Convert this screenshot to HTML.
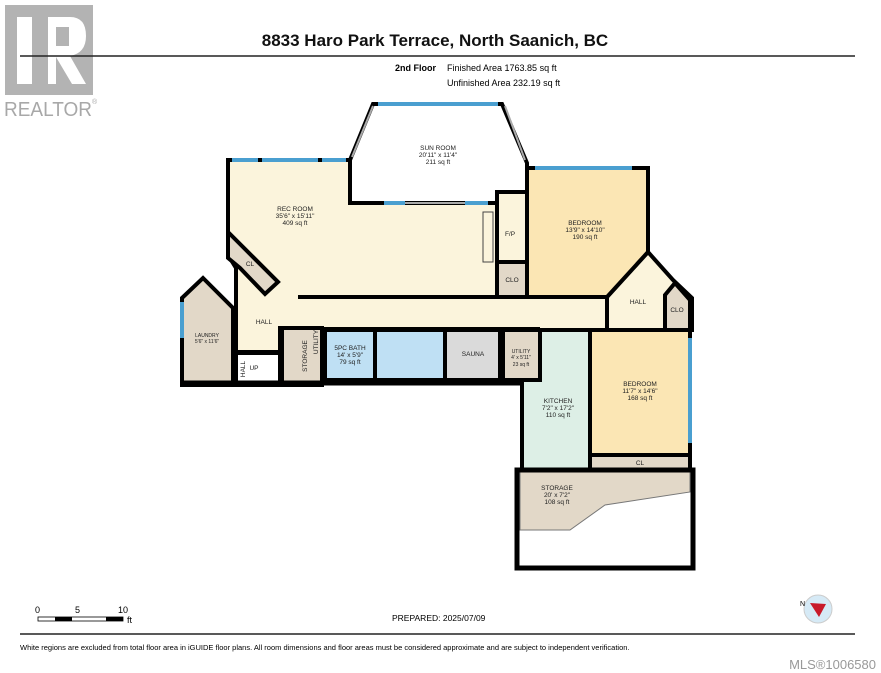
<!DOCTYPE html>
<html><head><meta charset="utf-8"><style>
body{margin:0;background:#fff;}
svg{display:block;font-family:"Liberation Sans",sans-serif;}
</style></head><body>
<svg width="881" height="673" viewBox="0 0 881 673" xmlns="http://www.w3.org/2000/svg">
<!-- logo -->
<rect x="5" y="5" width="88" height="90" fill="#b3b3b3"/>
<rect x="17" y="17" width="15" height="67" fill="#fff"/>
<path d="M48 17 H70 Q86 17 86 36 Q86 53 70 56 L86 84 H72 L56 57 V84 H48 Z" fill="#fff"/>
<rect x="56" y="27" width="13" height="19" fill="#b3b3b3"/>
<text x="4" y="116" font-size="20" fill="#a8a8a8" textLength="88" lengthAdjust="spacingAndGlyphs">REALTOR</text>
<text x="92" y="104" font-size="7" fill="#a8a8a8">®</text>
<line x1="20" y1="56" x2="855" y2="56" stroke="#222" stroke-width="1.5"/>
<text x="435" y="46" font-size="17" font-weight="bold" text-anchor="middle" fill="#111">8833 Haro Park Terrace, North Saanich, BC</text>
<text x="395" y="71" font-size="9" font-weight="bold">2nd Floor</text>
<text x="447" y="71" font-size="9">Finished Area 1763.85 sq ft</text>
<text x="447" y="86" font-size="9">Unfinished Area 232.19 sq ft</text>

<g stroke="#000" stroke-width="4" stroke-linejoin="miter">
<polygon points="373,104 502,104 527,163 527,192 497,192 497,203 350,203 350,160" fill="#fff"/>
<polygon points="228,160 350,160 350,203 497,203 497,297 325,297 325,328 280,328 280,352 236,352 236,268 228,255" fill="#fbf4dc"/>
<polygon points="322,299 660,299 660,328 322,328" fill="#fbf4dc" stroke="none"/>
<polygon points="648,252 673,280 692,298 692,330 607,330 607,297" fill="#fbf4dc"/>
<rect x="497" y="192" width="30" height="70" fill="#fbf4dc"/>
<rect x="497" y="262" width="30" height="35" fill="#e2d8c8"/>
<polygon points="527,168 648,168 648,252 607,297 527,297" fill="#fbe6b4"/>
<polygon points="228,232 278,282 265,294 240,268 228,258" fill="#e2d8c8"/>
<polygon points="665,295 675,283 690,300 690,330 665,330" fill="#e2d8c8"/>
<polygon points="182,298 203,278 233,308 233,385 182,385" fill="#e2d8c8"/>
<rect x="236" y="353" width="44" height="32" fill="#fff"/>
<rect x="282" y="328" width="40" height="57" fill="#e2d8c8"/>
<rect x="325" y="330" width="50" height="50" fill="#bfe0f4"/>
<rect x="375" y="330" width="70" height="50" fill="#bfe0f4"/>
<rect x="445" y="330" width="55" height="50" fill="#dadada"/>
<rect x="503" y="330" width="37" height="50" fill="#e2d8c8"/>
<polygon points="540,330 590,330 590,470 522,470 522,380 540,380" fill="#ddefe6"/>
<rect x="590" y="330" width="100" height="125" fill="#fbe6b4"/>
<rect x="590" y="455" width="100" height="15" fill="#e2d8c8"/>
<rect x="517" y="470" width="176" height="98" fill="#fff"/>
</g>
<line x1="298" y1="297" x2="497" y2="297" stroke="#000" stroke-width="4"/>
<line x1="322" y1="329" x2="540" y2="329" stroke="#000" stroke-width="4"/>
<polygon points="520,472 690,472 690,492 605,505 570,530 520,530" fill="#e2d8c8" stroke="#777" stroke-width="1"/>
<rect x="517" y="470" width="176" height="98" fill="none" stroke="#000" stroke-width="5"/>
<line x1="182" y1="383" x2="522" y2="383" stroke="#000" stroke-width="5"/>
<g stroke="#4a9fd0" stroke-width="4">
<line x1="378" y1="104" x2="498" y2="104"/>
<line x1="232" y1="160" x2="258" y2="160"/><line x1="262" y1="160" x2="318" y2="160"/><line x1="322" y1="160" x2="346" y2="160"/>
<line x1="535" y1="168" x2="632" y2="168"/>
<line x1="384" y1="203" x2="405" y2="203"/><line x1="465" y1="203" x2="488" y2="203"/>
<line x1="182" y1="302" x2="182" y2="338"/>
<line x1="690" y1="338" x2="690" y2="443"/>
</g>
<g stroke="#aaa" stroke-width="2"><line x1="352" y1="157" x2="373" y2="106"/><line x1="505" y1="106" x2="525" y2="160"/><line x1="405" y1="203" x2="465" y2="203"/></g>
<rect x="483" y="212" width="10" height="50" fill="none" stroke="#444" stroke-width="1"/>

<g font-size="6.5" text-anchor="middle" fill="#222">
<text x="438" y="150">SUN ROOM</text><text x="438" y="157">20'11" x 11'4"</text><text x="438" y="164">211 sq ft</text>
<text x="295" y="211">REC ROOM</text><text x="295" y="218">35'6" x 15'11"</text><text x="295" y="225">409 sq ft</text>
<text x="585" y="225">BEDROOM</text><text x="585" y="232">13'9" x 14'10"</text><text x="585" y="239">190 sq ft</text>
<text x="510" y="236">F/P</text>
<text x="512" y="282">CLO</text>
<text x="250" y="266">CL</text>
<text x="264" y="324">HALL</text>
<text x="638" y="304">HALL</text>
<text x="677" y="312">CLO</text>
<text x="207" y="337" font-size="5">LAUNDRY</text><text x="207" y="343" font-size="5">5'6" x 11'6"</text>
<text x="254" y="370">UP</text>
<text x="350" y="350">5PC BATH</text><text x="350" y="357">14' x 5'9"</text><text x="350" y="364">79 sq ft</text>
<text x="473" y="356">SAUNA</text>
<text x="521" y="353" font-size="5">UTILITY</text><text x="521" y="359" font-size="5">4' x 5'11"</text><text x="521" y="366" font-size="5">23 sq ft</text>
<text x="558" y="403">KITCHEN</text><text x="558" y="410">7'2" x 17'2"</text><text x="558" y="417">110 sq ft</text>
<text x="640" y="386">BEDROOM</text><text x="640" y="393">11'7" x 14'6"</text><text x="640" y="400">168 sq ft</text>
<text x="640" y="465">CL</text>
<text x="557" y="490">STORAGE</text><text x="557" y="497">20' x 7'2"</text><text x="557" y="504">108 sq ft</text>
<text transform="translate(307,356) rotate(-90)">STORAGE</text>
<text transform="translate(318,342) rotate(-90)">UTILITY</text>
<text transform="translate(245,369) rotate(-90)">HALL</text>
</g>

<text x="35" y="613" font-size="9">0</text><text x="75" y="613" font-size="9">5</text><text x="118" y="613" font-size="9">10</text>
<rect x="38" y="617" width="85" height="4" fill="#fff" stroke="#000" stroke-width="0.8"/>
<rect x="55" y="617" width="17" height="4" fill="#000"/><rect x="106" y="617" width="17" height="4" fill="#000"/>
<text x="127" y="623" font-size="9">ft</text>
<text x="392" y="621" font-size="8.5">PREPARED: 2025/07/09</text>
<circle cx="818" cy="609" r="14" fill="#d6eaf6" stroke="#ccc"/>
<polygon points="810,603 826,604 819,617" fill="#c81a2a"/>
<text x="800" y="606" font-size="7">N</text>
<line x1="20" y1="634" x2="855" y2="634" stroke="#222" stroke-width="1.5"/>
<text x="20" y="650" font-size="7.5">White regions are excluded from total floor area in iGUIDE floor plans. All room dimensions and floor areas must be considered approximate and are subject to independent verification.</text>
<text x="876" y="669" font-size="13" fill="#999" text-anchor="end">MLS®1006580</text>
</svg>
</body></html>
